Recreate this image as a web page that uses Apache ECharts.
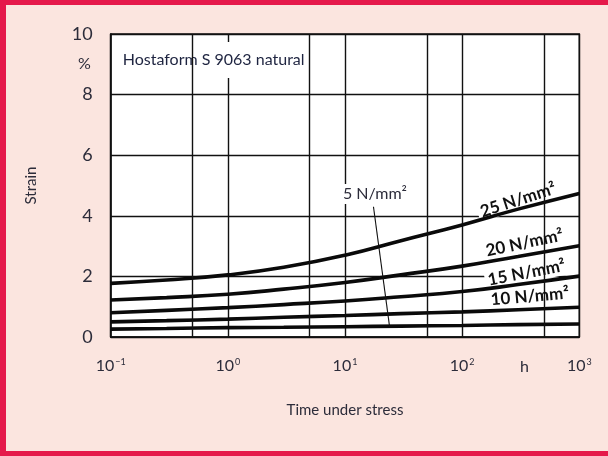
<!DOCTYPE html>
<html>
<head>
<meta charset="utf-8">
<script src="https://cdn.jsdelivr.net/npm/echarts@6/dist/echarts.min.js"></script>
<style>
  html, body { margin: 0; padding: 0; background: #fbe5df; }
  #chart { width: 608px; height: 456px; }
</style>
</head>
<body>
<div id="chart"></div>
<script>
// Creep strain vs. time under stress, Hostaform S 9063 natural
const hours = [0.1, 0.3, 1, 3, 10, 30, 100, 300, 1000];
const strain25 = [1.77, 1.88, 2.05, 2.30, 2.70, 3.18, 3.70, 4.22, 4.74];
const strain20 = [1.22, 1.30, 1.41, 1.58, 1.80, 2.05, 2.34, 2.66, 3.01];
const strain15 = [0.80, 0.88, 0.97, 1.07, 1.19, 1.33, 1.50, 1.73, 2.01];
const strain10 = [0.50, 0.54, 0.59, 0.65, 0.71, 0.77, 0.83, 0.90, 0.98];
const strain5  = [0.26, 0.28, 0.31, 0.32, 0.34, 0.36, 0.38, 0.41, 0.43];

const stressNames = ['25 N/mm²', '20 N/mm²', '15 N/mm²', '10 N/mm²', '5 N/mm²'];
const extraGridHours = [0.5, 5, 50, 500];
const yTickValues = [0, 2, 4, 6, 8, 10];

// label anchors in data space [hours, strain] and tilt (degrees)
const curveLabelAt = [[300, 4.52, 18], [340, 3.10, 12], [355, 2.12, 11], [378, 1.34, 5]];
const leaderLine = [[17.5, 4.30], [24, 0.35]];
const fiveLabelAt = [18, 4.72];
const unitHourAt = 340;

const INK = '#2c2c3a';
const FONT = 'Lato, "Noto Sans", sans-serif';

const chart = echarts.init(document.getElementById('chart'));

function pairs(ys) { return hours.map((h, i) => [h, ys[i]]); }

function curve(name, ys) {
  return {
    name, type: 'line', data: pairs(ys), smooth: 0.5, symbol: 'none', z: 4,
    lineStyle: { color: '#0a0a0a', width: 3.6 }, silent: true
  };
}

chart.setOption({
  backgroundColor: '#fbe5df',
  animation: false,
  grid: { left: 110.7, right: 28.7, top: 34, bottom: 119, show: true,
          backgroundColor: '#ffffff', borderColor: '#111', borderWidth: 1.5 },
  xAxis: {
    type: 'log', logBase: 10, min: 0.1, max: 1000,
    name: 'Time under stress', nameLocation: 'middle', nameGap: 66,
    nameTextStyle: { fontFamily: FONT, fontSize: 15, color: INK },
    axisLine: { lineStyle: { color: '#111', width: 1.5 } },
    axisTick: { show: false },
    splitLine: { show: true, lineStyle: { color: '#111', width: 1.4 } },
    axisLabel: {
      margin: 21, color: INK,
      formatter: v => {
        const e = Math.round(Math.log10(v));
        return '{b|10}{s|' + (e < 0 ? '\u2212' + (-e) : e) + '}';
      },
      rich: {
        b: { fontFamily: FONT, fontSize: 16, color: INK },
        s: { fontFamily: FONT, fontSize: 9, color: INK, verticalAlign: 'top', padding: [0, 0, 0, 1] }
      }
    }
  },
  yAxis: [
    {
      type: 'value', min: 0, max: 10, interval: 2,
      name: 'Strain', nameLocation: 'middle', nameGap: 72, nameRotate: 90,
      nameTextStyle: { fontFamily: FONT, fontSize: 15, color: INK },
      axisLine: { show: true, lineStyle: { color: '#111', width: 1.5 } },
      axisTick: { show: false },
      splitLine: { show: true, lineStyle: { color: '#111', width: 1.4 } },
      axisLabel: { margin: 18, fontFamily: FONT, fontSize: 18, color: INK,
                   formatter: v => yTickValues.includes(v) ? String(v) : '' }
    },
    {
      type: 'value', min: 0, max: 10, interval: 1, position: 'left',
      axisLine: { show: false }, axisTick: { show: false }, splitLine: { show: false },
      axisLabel: { margin: 20, fontFamily: FONT, fontSize: 16, color: INK,
                   formatter: v => v === 9 ? '%' : '' }
    }
  ],
  series: [
    {
      name: 'grid-5', type: 'line', data: [], z: 1, silent: true,
      markLine: {
        silent: true, symbol: 'none', label: { show: false }, animation: false,
        lineStyle: { color: '#111', width: 1.4, type: 'solid' },
        data: extraGridHours.map(h => ({ xAxis: h }))
      }
    },
    curve(stressNames[0], strain25),
    curve(stressNames[1], strain20),
    curve(stressNames[2], strain15),
    curve(stressNames[3], strain10),
    curve(stressNames[4], strain5),
    {
      name: 'leader', type: 'line', data: leaderLine, symbol: 'none', z: 4, silent: true,
      lineStyle: { color: '#111', width: 1.1 }
    }
  ]
});

// Text annotations placed through the chart's own coordinate system
const px = p => chart.convertToPixel({ gridIndex: 0 }, p);

const graphics = [
  // red frame
  { type: 'rect', shape: { x: 0, y: 0, width: 6, height: 456 }, style: { fill: '#e5194b' }, z: 20 },
  { type: 'rect', shape: { x: 0, y: 0, width: 608, height: 5 }, style: { fill: '#e5194b' }, z: 20 },
  { type: 'rect', shape: { x: 0, y: 451, width: 608, height: 5 }, style: { fill: '#e5194b' }, z: 20 }
];

// material title box
const tpos = px([0.1, 9.14]);
graphics.push({
  type: 'text', x: tpos[0] + 3, y: tpos[1], z: 3,
  style: { text: 'Hostaform S 9063 natural', fontFamily: FONT, fontSize: 16, fill: '#1e2440',
           backgroundColor: '#fff', padding: [10, 14, 10, 9], verticalAlign: 'middle', align: 'left' }
});

// curve labels
curveLabelAt.forEach((c, i) => {
  const p = px([c[0], c[1]]);
  graphics.push({
    type: 'text', x: p[0], y: p[1], rotation: c[2] * Math.PI / 180, z: 3,
    style: { text: stressNames[i], fontFamily: FONT, fontSize: 17, fontWeight: 'bold', fill: '#111',
             backgroundColor: '#fff', padding: [1, 3], align: 'center', verticalAlign: 'middle' }
  });
});

// 5 N/mm² label
const fp = px(fiveLabelAt);
graphics.push({
  type: 'text', x: fp[0], y: fp[1], z: 3,
  style: { text: stressNames[4], fontFamily: FONT, fontSize: 16, fill: INK,
           backgroundColor: '#fff', padding: [2, 3], align: 'center', verticalAlign: 'middle' }
});

// time unit
const hp = px([unitHourAt, 0]);
graphics.push({
  type: 'text', x: hp[0], y: hp[1] + 30, z: 3,
  style: { text: 'h', fontFamily: FONT, fontSize: 16, fill: INK, align: 'center', verticalAlign: 'middle' }
});

chart.setOption({ graphic: graphics });
</script>
</body>
</html>
